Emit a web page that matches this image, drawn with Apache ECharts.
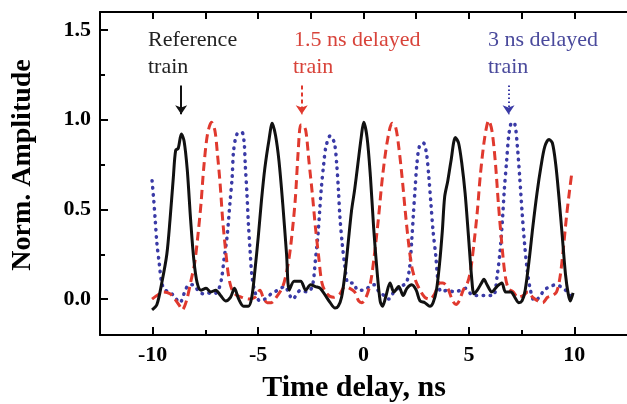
<!DOCTYPE html>
<html>
<head>
<meta charset="utf-8">
<script src="https://cdn.jsdelivr.net/npm/echarts@6/dist/echarts.min.js"></script>
<style>
  html, body { margin: 0; padding: 0; background: #fff; }
  #main { width: 627px; height: 404px; }
</style>
</head>
<body>
<div id="main"></div>
<script>
// time delay (ns), normalized amplitude
const refTrain = [
  [-10.03,-0.06],[-9.80,-0.03],[-9.57,0.09],[-9.33,0.25],[-9.18,0.44],[-9.02,0.68],[-8.91,0.83],[-8.79,0.84],
  [-8.64,0.92],[-8.51,0.88],[-8.36,0.72],[-8.20,0.44],[-8.05,0.22],[-7.89,0.09],[-7.71,0.05],[-7.47,0.06],
  [-7.24,0.04],[-7.01,0.05],[-6.78,0.02],[-6.54,-0.01],[-6.31,0.01],[-6.12,0.06],[-5.92,0.00],[-5.69,-0.04],
  [-5.46,-0.04],[-5.30,0.01],[-5.15,0.16],[-4.99,0.35],[-4.84,0.55],[-4.68,0.73],[-4.48,0.89],[-4.33,0.98],
  [-4.17,0.91],[-4.01,0.77],[-3.83,0.53],[-3.65,0.25],[-3.52,0.05],[-3.29,0.10],[-2.98,0.10],[-2.74,0.05],
  [-2.51,0.08],[-2.28,0.07],[-2.05,0.06],[-1.81,0.02],[-1.58,-0.02],[-1.35,-0.05],[-1.20,-0.04],[-1.04,0.01],
  [-0.88,0.14],[-0.73,0.31],[-0.57,0.49],[-0.42,0.61],[-0.27,0.75],[-0.11,0.90],[0.01,0.985],[0.17,0.90],
  [0.33,0.68],[0.48,0.40],[0.64,0.16],[0.79,-0.01],[0.90,-0.04],[1.05,0.01],[1.26,0.09],[1.44,0.04],
  [1.67,0.07],[1.88,0.02],[2.06,0.06],[2.29,0.08],[2.50,0.05],[2.68,-0.01],[2.91,-0.02],[3.15,-0.04],
  [3.30,-0.02],[3.46,0.05],[3.61,0.20],[3.74,0.38],[3.85,0.57],[4.00,0.66],[4.15,0.77],[4.36,0.90],
  [4.51,0.87],[4.67,0.75],[4.82,0.59],[4.98,0.35],[5.13,0.12],[5.24,0.03],[5.40,0.05],[5.60,0.09],
  [5.71,0.11],[5.86,0.08],[6.09,0.04],[6.33,0.07],[6.56,0.09],[6.74,0.04],[6.99,0.04],[7.18,0.01],
  [7.36,-0.02],[7.52,-0.01],[7.67,0.05],[7.88,0.24],[8.03,0.40],[8.23,0.59],[8.42,0.74],[8.60,0.85],
  [8.80,0.89],[8.96,0.87],[9.12,0.75],[9.27,0.57],[9.43,0.35],[9.58,0.14],[9.71,0.03],[9.81,-0.01],[9.94,0.035]
];

const delayed15 = [
  [-10.03,0.00],[-9.80,0.02],[-9.49,0.04],[-9.18,0.03],[-8.95,0.00],[-8.71,-0.04],[-8.60,-0.06],[-8.40,-0.01],
  [-8.17,0.11],[-8.01,0.20],[-7.86,0.35],[-7.71,0.53],[-7.58,0.73],[-7.40,0.92],[-7.21,0.985],[-7.05,0.94],
  [-6.93,0.81],[-6.80,0.64],[-6.68,0.44],[-6.54,0.27],[-6.39,0.12],[-6.23,0.05],[-6.00,0.02],[-5.77,0.01],
  [-5.46,0.00],[-5.15,0.01],[-4.91,0.05],[-4.76,0.01],[-4.57,-0.02],[-4.37,-0.02],[-4.14,0.01],[-3.83,0.07],
  [-3.60,0.18],[-3.44,0.31],[-3.24,0.55],[-3.10,0.82],[-2.98,0.97],[-2.88,0.97],[-2.74,0.94],[-2.59,0.77],
  [-2.43,0.59],[-2.28,0.40],[-2.13,0.24],[-1.97,0.09],[-1.74,0.03],[-1.43,0.01],[-1.12,0.03],[-0.88,0.07],
  [-0.65,0.06],[-0.42,0.04],[-0.23,-0.01],[-0.08,-0.02],[0.12,0.01],[0.33,0.09],[0.51,0.24],[0.70,0.44],
  [0.90,0.68],[1.13,0.88],[1.36,0.98],[1.52,0.96],[1.67,0.85],[1.83,0.68],[1.98,0.49],[2.14,0.31],
  [2.29,0.18],[2.45,0.11],[2.68,0.05],[2.91,0.01],[3.15,0.00],[3.38,0.03],[3.61,0.09],[3.77,0.09],
  [4.00,0.06],[4.23,-0.01],[4.39,-0.03],[4.54,-0.01],[4.73,0.05],[4.93,0.09],[5.08,0.16],[5.24,0.31],
  [5.40,0.49],[5.55,0.70],[5.75,0.90],[5.94,0.995],[6.09,0.94],[6.25,0.77],[6.40,0.53],[6.56,0.31],
  [6.71,0.14],[6.87,0.06],[7.10,0.04],[7.33,0.01],[7.57,0.02],[7.80,0.04],[8.03,0.01],[8.27,-0.01],
  [8.50,-0.02],[8.73,0.01],[8.96,0.02],[9.16,0.04],[9.32,0.12],[9.47,0.27],[9.63,0.46],[9.78,0.61],[9.89,0.71]
];

const delayed3 = [
  [-10.03,0.66],[-9.95,0.55],[-9.88,0.44],[-9.80,0.31],[-9.69,0.20],[-9.57,0.09],[-9.41,0.05],[-9.18,0.04],
  [-8.95,0.01],[-8.71,-0.02],[-8.48,0.04],[-8.29,0.08],[-8.09,0.08],[-7.86,0.05],[-7.63,0.03],[-7.40,0.035],
  [-7.16,0.03],[-6.93,0.04],[-6.74,0.11],[-6.62,0.22],[-6.47,0.35],[-6.34,0.53],[-6.23,0.68],[-6.16,0.83],
  [-6.00,0.92],[-5.77,0.93],[-5.66,0.87],[-5.61,0.75],[-5.53,0.59],[-5.46,0.42],[-5.38,0.27],[-5.30,0.14],
  [-5.15,0.04],[-4.91,-0.01],[-4.68,0.00],[-4.37,0.03],[-4.06,0.05],[-3.75,0.07],[-3.36,0.00],[-2.98,0.05],
  [-2.67,0.04],[-2.43,0.07],[-2.28,0.22],[-2.16,0.36],[-2.08,0.49],[-2.00,0.62],[-1.89,0.75],[-1.78,0.85],
  [-1.58,0.91],[-1.38,0.87],[-1.27,0.75],[-1.19,0.61],[-1.12,0.46],[-1.01,0.31],[-0.88,0.18],[-0.73,0.09],
  [-0.50,0.09],[-0.27,0.05],[0.05,0.05],[0.28,0.07],[0.51,0.08],[0.74,0.04],[0.98,0.02],[1.21,0.00],
  [1.44,0.04],[1.75,0.07],[2.03,0.09],[2.19,0.18],[2.29,0.33],[2.37,0.48],[2.45,0.62],[2.53,0.75],
  [2.65,0.85],[2.84,0.87],[2.99,0.81],[3.10,0.68],[3.20,0.53],[3.30,0.38],[3.43,0.24],[3.53,0.11],
  [3.69,0.04],[4.00,0.05],[4.31,0.04],[4.62,0.05],[4.85,0.06],[5.08,0.03],[5.32,0.02],[5.63,0.02],
  [5.94,0.02],[6.17,0.02],[6.33,0.12],[6.48,0.27],[6.59,0.44],[6.68,0.61],[6.79,0.77],[6.90,0.92],
  [7.04,0.985],[7.18,0.975],[7.30,0.85],[7.41,0.68],[7.52,0.49],[7.64,0.31],[7.77,0.16],[7.92,0.05],
  [8.11,-0.01],[8.34,0.01],[8.57,0.05],[8.85,0.07],[9.12,0.08],[9.35,0.07],[9.58,0.05],[9.78,0.02],[9.90,0.02]
];

const xMajor = [-10, -5, 0, 5, 10];
const xMinor = [-7.5, -2.5, 2.5, 7.5];
const xTop = [-10, -7.5, -5, -2.5, 0, 2.5, 5, 7.5, 10];
const yMajor = [0, 0.5, 1.0, 1.5];
const yMinor = [0.25, 0.75, 1.25];

// arrow tips: [x, from y, to y]
const arrowRef = [-8.65, 1.19, 1.03];
const arrow15 = [-2.93, 1.19, 1.03];
const arrow3 = [6.88, 1.19, 1.03];

const serif = '"Liberation Serif", "Times New Roman", serif';
const BLACK = '#111111';
const RED = '#e0392e';
const BLUE = '#3a3aa6';

function arrow(a, color, type) {
  return {
    silent: true,
    symbol: ['none', 'arrow'],
    symbolSize: 9,
    label: { show: false },
    lineStyle: { color: color, width: 2, type: type },
    data: [[{ coord: [a[0], a[1]] }, { coord: [a[0], a[2]] }]]
  };
}

const chart = echarts.init(document.getElementById('main'));

const xBase = { type: 'value', min: -12.5, max: 12.5, splitLine: { show: false } };
const yBase = { type: 'value', min: -0.2, max: 1.6, splitLine: { show: false } };
const frameLine = { show: true, onZero: false, lineStyle: { color: '#000', width: 2 } };
const noLine = { show: false, onZero: false };

chart.setOption({
  animation: false,
  backgroundColor: '#fff',
  grid: { left: 100, top: 12, width: 537.5, height: 323 },
  xAxis: [
    Object.assign({}, xBase, {
      position: 'bottom',
      axisLine: frameLine,
      axisTick: { inside: true, length: 8, lineStyle: { color: '#000', width: 2 }, customValues: xMajor },
      axisLabel: {
        customValues: xMajor, margin: 9, color: '#000',
        fontFamily: serif, fontWeight: 'bold', fontSize: 22
      }
    }),
    Object.assign({}, xBase, {
      position: 'bottom',
      axisLine: noLine,
      axisTick: { inside: true, length: 5, lineStyle: { color: '#000', width: 2 }, customValues: xMinor },
      axisLabel: { show: false }
    }),
    Object.assign({}, xBase, {
      position: 'top',
      axisLine: frameLine,
      axisTick: { inside: true, length: 7, lineStyle: { color: '#000', width: 2 }, customValues: xTop },
      axisLabel: { show: false }
    })
  ],
  yAxis: [
    Object.assign({}, yBase, {
      position: 'left',
      axisLine: frameLine,
      axisTick: { show: true, inside: true, length: 8, lineStyle: { color: '#000', width: 2 }, customValues: yMajor },
      axisLabel: {
        customValues: yMajor, margin: 9, color: '#000',
        fontFamily: serif, fontWeight: 'bold', fontSize: 22,
        formatter: v => v.toFixed(1)
      }
    }),
    Object.assign({}, yBase, {
      position: 'left',
      axisLine: noLine,
      axisTick: { show: true, inside: true, length: 5, lineStyle: { color: '#000', width: 2 }, customValues: yMinor },
      axisLabel: { show: false }
    })
  ],
  series: [
    {
      name: '3 ns delayed train', type: 'line', data: delayed3, showSymbol: false, smooth: 0.3,
      lineStyle: { color: BLUE, width: 3.5, type: [0.5, 6.5], cap: 'round' },
      markLine: arrow(arrow3, BLUE, [1.5, 2.5])
    },
    {
      name: '1.5 ns delayed train', type: 'line', data: delayed15, showSymbol: false, smooth: 0.3,
      lineStyle: { color: RED, width: 3, type: [9, 5] },
      markLine: arrow(arrow15, RED, [4, 3])
    },
    {
      name: 'Reference train', type: 'line', data: refTrain, showSymbol: false, smooth: 0.3,
      lineStyle: { color: BLACK, width: 3 },
      markLine: arrow(arrowRef, BLACK, 'solid')
    }
  ],
  graphic: [
    { type: 'text', x: 148, y: 40, style: { text: 'Reference', fill: '#222', font: '22px ' + serif, textVerticalAlign: 'middle' } },
    { type: 'text', x: 148, y: 67, style: { text: 'train', fill: '#222', font: '22px ' + serif, textVerticalAlign: 'middle' } },
    { type: 'text', x: 294, y: 40, style: { text: '1.5 ns delayed', fill: '#d8433a', font: '22px ' + serif, textVerticalAlign: 'middle' } },
    { type: 'text', x: 293, y: 67, style: { text: 'train', fill: '#d8433a', font: '22px ' + serif, textVerticalAlign: 'middle' } },
    { type: 'text', x: 488, y: 40, style: { text: '3 ns delayed', fill: '#4a4a9c', font: '22px ' + serif, textVerticalAlign: 'middle' } },
    { type: 'text', x: 488, y: 67, style: { text: 'train', fill: '#4a4a9c', font: '22px ' + serif, textVerticalAlign: 'middle' } },
    {
      type: 'text', x: 23, y: 165, rotation: Math.PI / 2,
      style: { text: 'Norm. Amplitude', fill: '#000', font: 'bold 28px ' + serif, textAlign: 'center', textVerticalAlign: 'middle' }
    },
    {
      type: 'text', x: 354, y: 388,
      style: { text: 'Time delay, ns', fill: '#000', font: 'bold 30px ' + serif, textAlign: 'center', textVerticalAlign: 'middle' }
    }
  ]
});
</script>
</body>
</html>
